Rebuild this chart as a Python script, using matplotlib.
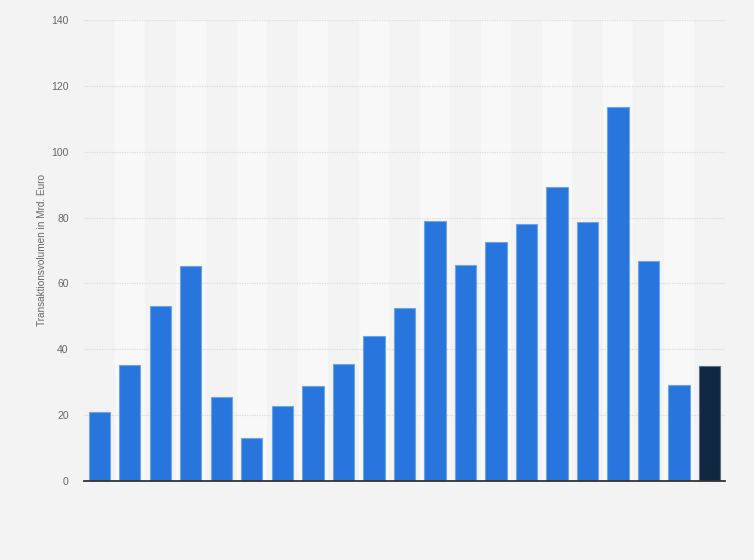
import numpy as np
import matplotlib
matplotlib.use("Agg")
import matplotlib.pyplot as plt

# ---------------- data ----------------
values = [20.8, 35.3, 53.0, 65.2, 25.6, 13.2, 22.7, 28.7, 35.6, 43.9,
          52.6, 78.9, 65.5, 72.5, 78.0, 89.2, 78.6, 113.6, 66.8, 29.0, 34.9]
highlight = [False] * 20 + [True]
y_ticks = [0, 20, 40, 60, 80, 100, 120, 140]
y_label = "Transaktionsvolumen in Mrd. Euro"

bar_blue = "#2876dd"
bar_dark = "#0f2741"
bg = "#f3f3f3"
stripe = "#f8f8f8"

plt.rcParams["font.family"] = ["Liberation Sans", "DejaVu Sans"]

fig = plt.figure(figsize=(7.54, 5.6), dpi=100, facecolor=bg)
ax = fig.add_axes([0.1114, 0.1411, 0.8498, 0.8232])
ax.set_facecolor(bg)

n = len(values)
x = np.arange(n)

# alternating column stripes
for i in x:
    if i % 2 == 1:
        ax.axvspan(i - 0.5, i + 0.5, color=stripe, zorder=0, lw=0)

colors = [bar_dark if h else bar_blue for h in highlight]
edges = ["#5a6f86" if h else "#6fa3ea" for h in highlight]
ax.bar(x, values, width=0.7, color=colors, edgecolor=edges, linewidth=0.8, zorder=3)

ax.set_xlim(-0.5, n - 0.5)
ax.set_ylim(0, 140)
ax.set_yticks(y_ticks)
ax.set_xticks([])

ax.yaxis.grid(True, linestyle=(0, (1, 1)), color="#dadada", linewidth=0.9, zorder=1)
ax.set_axisbelow(True)

for s in ["top", "right", "left"]:
    ax.spines[s].set_visible(False)
ax.spines["bottom"].set_color("#333333")
ax.spines["bottom"].set_linewidth(1.3)
ax.spines["bottom"].set_zorder(4)

ax.tick_params(axis="y", length=0, pad=11, labelsize=7.5, labelcolor="#666666")
ax.set_ylabel(y_label, fontsize=7.2, color="#666666")
ax.yaxis.set_label_coords(-0.058, 0.5)

fig.savefig("out.png", dpi=100, facecolor=bg)
